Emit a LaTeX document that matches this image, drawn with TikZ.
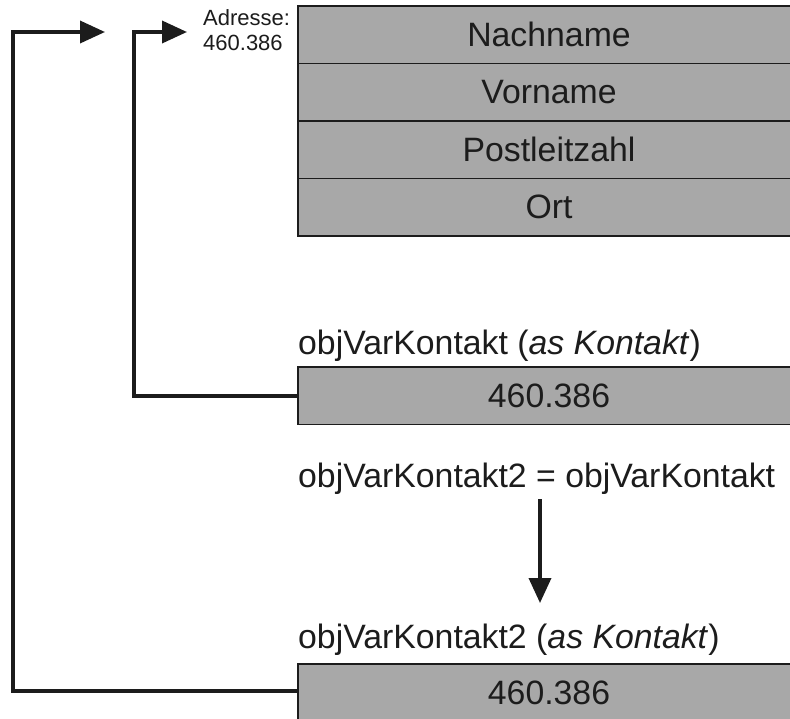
\documentclass[tikz,border=0pt]{standalone}
\usepackage{fontspec}
\setmainfont{Liberation Sans}
\usepackage{tikz}
\usetikzlibrary{arrows.meta, positioning}
\usepackage{xcolor}
\definecolor{cellgray}{RGB}{168,168,168}
\definecolor{inkdark}{RGB}{28,28,28}

\tikzset{
  cell/.style={draw=inkdark, line width=1.6pt, fill=cellgray, text=inkdark,
    minimum width=502pt, minimum height=57.5pt, inner sep=0pt, outer sep=0pt,
    font=\fontsize{33.8}{38}\selectfont},
  varlabel/.style={text=inkdark, inner sep=0pt, anchor=base west,
    font=\fontsize{33.8}{38}\selectfont},
  ptr/.style={draw=inkdark, line width=3.6pt, -{Triangle[length=25pt, width=22pt]}},
}

\begin{document}
\begin{tikzpicture}[x=1pt, y=-1pt]
  \useasboundingbox (0,0) rectangle (790,718);
  % object in memory
  \node[cell, anchor=north west] (nach) at (298,6) {Nachname};
  \node[cell, below=0pt of nach] (vor) {Vorname};
  \node[cell, below=0pt of vor] (plz) {Postleitzahl};
  \node[cell, below=0pt of plz] (ort) {Ort};
  \node[text=inkdark, align=left, inner sep=0pt, anchor=north west,
    font=\fontsize{22}{25.5}\selectfont] (adr) at (203,9) {Adresse:\\460.386};
  % first variable
  \node[cell, anchor=north west] (kvar) at (298,367) {460.386};
  \node[varlabel] (kvarlbl) at ([yshift=13pt]kvar.north west) {objVarKontakt (\textit{as Kontakt})};
  % assignment
  \node[varlabel] (assign) at (298,487) {objVarKontakt2 = objVarKontakt};
  \coordinate (cpyfrom) at (540,499);
  \coordinate (cpyto) at (540,603);
  \draw[ptr] (cpyfrom) -- (cpyto);
  % second variable
  \node[cell, anchor=north west] (kvar2) at (298,664) {460.386};
  \node[varlabel] (kvar2lbl) at ([yshift=16pt]kvar2.north west) {objVarKontakt2 (\textit{as Kontakt})};
  % references
  \coordinate (ref1) at (187,32);
  \coordinate (ref2) at (105,32);
  \draw[ptr] (kvar.west) -- ++(-164,0) |- (ref1);
  \draw[ptr] ([yshift=2pt]kvar2.west) -- ++(-285,0) |- (ref2);
\end{tikzpicture}
\end{document}
